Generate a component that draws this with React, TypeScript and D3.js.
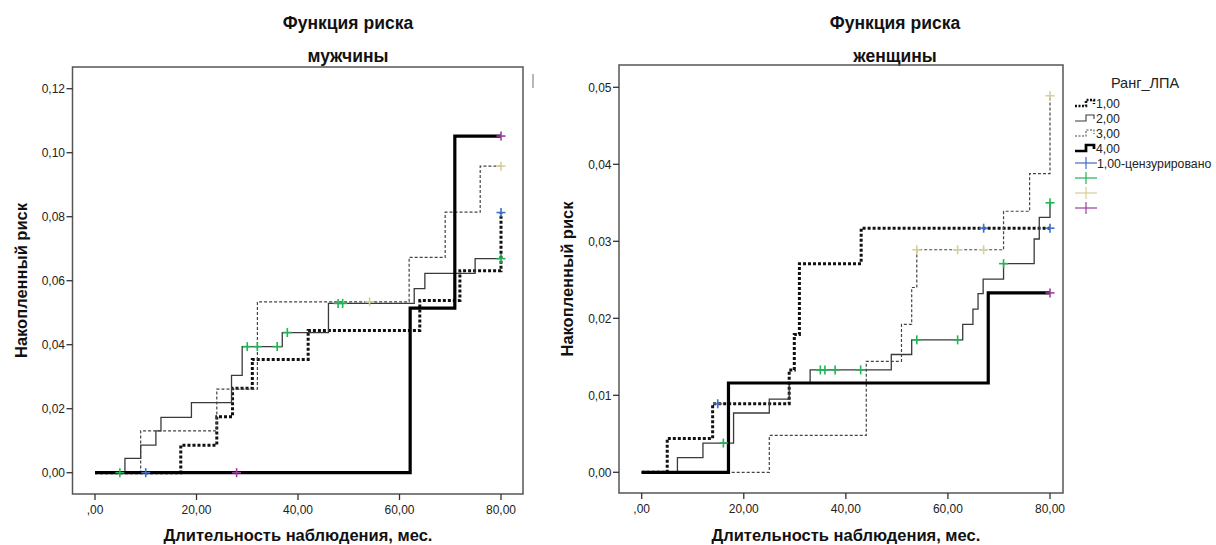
import React from 'react';
import * as d3 from 'd3';

// ---------- data ----------
const xTicks = [0, 20, 40, 60, 80];
const xTickLabels = [',00', '20,00', '40,00', '60,00', '80,00'];
const menYTicks = [0, 0.02, 0.04, 0.06, 0.08, 0.1, 0.12];
const menYTickLabels = ['0,00', '0,02', '0,04', '0,06', '0,08', '0,10', '0,12'];
const womenYTicks = [0, 0.01, 0.02, 0.03, 0.04, 0.05];
const womenYTickLabels = ['0,00', '0,01', '0,02', '0,03', '0,04', '0,05'];

const seriesNames = ['1,00', '2,00', '3,00', '4,00'];
const censorLabels = ['1,00-цензурировано', '', '', ''];

// мужчины
const menS1Times = [0, 16.9, 24.0, 27.1, 31.0, 42.0, 64.0, 71.9, 80];
const menS1Risk = [0, 0.0086, 0.0175, 0.0264, 0.0354, 0.0444, 0.0538, 0.0631, 0.0813];
const menS1Cens = [10.0, 80];
const menS2Times = [0, 5.9, 9.0, 12.0, 13.0, 19.0, 26.9, 29.0, 36.9, 46.0, 62.9, 65.0, 74.9];
const menS2Risk = [0, 0.0045, 0.0086, 0.0131, 0.0173, 0.0219, 0.0304, 0.0394, 0.0438, 0.0529, 0.0575, 0.0623, 0.0669];
const menS2Cens = [4.9, 30.0, 32.0, 35.9, 37.9, 47.9, 48.8, 80];
const menS3Times = [0, 9.0, 24.0, 32.0, 61.9, 69.0, 75.9];
const menS3Risk = [0, 0.0131, 0.0261, 0.0534, 0.0673, 0.0814, 0.0958];
const menS3Cens = [54.1, 80];
const menS4Times = [0, 62.1, 70.9];
const menS4Risk = [0, 0.0514, 0.1052];
const menS4Cens = [27.9, 80];

// женщины
const womenS1Times = [0, 5.0, 13.9, 28.9, 29.9, 30.9, 43.0];
const womenS1Risk = [0, 0.0044, 0.0089, 0.0133, 0.0179, 0.0271, 0.0317];
const womenS1Cens = [14.9, 67.0, 80];
const womenS2Times = [0, 7.0, 12.0, 18.0, 25.0, 28.9, 33.0, 48.9, 52.9, 62.9, 64.9, 65.9, 66.9, 70.9, 76.9, 77.9, 80];
const womenS2Risk = [0, 0.0019, 0.0038, 0.0077, 0.0095, 0.0116, 0.0133, 0.0153, 0.0172, 0.0192, 0.0212, 0.0232, 0.0251, 0.0271, 0.0303, 0.0331, 0.035];
const womenS2Cens = [16.0, 35.0, 35.9, 37.9, 42.9, 53.9, 61.9, 70.9, 80];
const womenS3Times = [0, 25.0, 44.0, 50.9, 52.9, 53.9, 70.9, 76.0, 80];
const womenS3Risk = [0, 0.0048, 0.0144, 0.0192, 0.024, 0.0289, 0.0339, 0.0388, 0.0489];
const womenS3Cens = [53.9, 61.9, 67.0, 80];
const womenS4Times = [0, 17.0, 67.9];
const womenS4Risk = [0, 0.0116, 0.0233];
const womenS4Cens = [80];

// ---------- styles ----------
const FONT = "'Liberation Sans', Arial, sans-serif";
const lineStyles = [
  { stroke: '#111', width: 3, dash: '3,2' },
  { stroke: '#3a3a3a', width: 1.3, dash: '' },
  { stroke: '#444', width: 1.2, dash: '3,2' },
  { stroke: '#000', width: 3.2, dash: '' },
];
const censorColors = ['#3f6fc6', '#22b455', '#d6cf98', '#9c3c9e'];
const HEAD_SIZE = 17.5;
const TITLE_SIZE = 16.5;
const TICK_SIZE = 12;

type Series = { times: number[]; risk: number[]; cens: number[] };

function stepValue(s: Series, t: number) {
  let v = s.risk[0];
  for (let i = 0; i < s.times.length; i++) if (s.times[i] <= t + 1e-9) v = s.risk[i];
  return v;
}

type PanelProps = {
  series: Series[];
  yTicks: number[];
  yTickLabels: string[];
  yMax: number;
  box: { l: number; r: number; t: number; b: number };
  xRange: [number, number];
  yRange: [number, number];
  subtitle: string;
  titleX: number;
};

function Panel(p: PanelProps) {
  const x = d3.scaleLinear().domain([0, 80]).range(p.xRange);
  const y = d3.scaleLinear().domain([0, p.yMax]).range(p.yRange);
  const line = d3
    .line<[number, number]>()
    .x((d) => x(d[0]))
    .y((d) => y(d[1]))
    .curve(d3.curveStepAfter);
  const midY = (p.box.t + p.box.b) / 2;
  const midX = (p.xRange[0] + p.xRange[1]) / 2;
  return (
    <g>
      <text x={p.titleX} y={28.5} textAnchor="middle" fontFamily={FONT} fontWeight="bold" fontSize={HEAD_SIZE} fill="#111">
        Функция риска
      </text>
      <text x={p.titleX} y={61.5} textAnchor="middle" fontFamily={FONT} fontWeight="bold" fontSize={HEAD_SIZE} fill="#111">
        {p.subtitle}
      </text>
      <rect x={p.box.l} y={p.box.t} width={p.box.r - p.box.l} height={p.box.b - p.box.t} fill="none" stroke="#555" strokeWidth={1.5} />
      {p.yTicks.map((v, i) => (
        <g key={'y' + i}>
          <line x1={p.box.l - 6} x2={p.box.l} y1={y(v)} y2={y(v)} stroke="#333" strokeWidth={1.3} />
          <text x={p.box.l - 7.5} y={y(v) + 4.3} textAnchor="end" fontFamily={FONT} fontSize={TICK_SIZE} fill="#222">
            {p.yTickLabels[i]}
          </text>
        </g>
      ))}
      {xTicks.map((v, i) => (
        <g key={'x' + i}>
          <line x1={x(v)} x2={x(v)} y1={p.box.b} y2={p.box.b + 6} stroke="#333" strokeWidth={1.3} />
          <text x={x(v)} y={p.box.b + 20} textAnchor="middle" fontFamily={FONT} fontSize={TICK_SIZE} fill="#222">
            {xTickLabels[i]}
          </text>
        </g>
      ))}
      <text x={midX} y={541} textAnchor="middle" fontFamily={FONT} fontWeight="bold" fontSize={TITLE_SIZE} fill="#111">
        Длительность наблюдения, мес.
      </text>
      <text
        transform={`translate(${p.box.l - 46},${midY}) rotate(-90)`}
        textAnchor="middle"
        fontFamily={FONT}
        fontWeight="bold"
        fontSize={TITLE_SIZE}
        fill="#111"
      >
        Накопленный риск
      </text>
      {p.series.map((s, i) => {
        const pts: [number, number][] = s.times.map((t, j) => [t, s.risk[j]] as [number, number]);
        if (pts[pts.length - 1][0] < 80) pts.push([80, pts[pts.length - 1][1]]);
        const st = lineStyles[i];
        return (
          <path
            key={'s' + i}
            d={line(pts) || ''}
            fill="none"
            stroke={st.stroke}
            strokeWidth={st.width}
            strokeDasharray={st.dash || undefined}
          />
        );
      })}
      {p.series.map((s, i) =>
        s.cens.map((t, j) => {
          const cx = x(t);
          const cy = y(stepValue(s, t));
          return (
            <g key={'c' + i + '-' + j} stroke={censorColors[i]} strokeWidth={1.6}>
              <line x1={cx - 4.5} x2={cx + 4.5} y1={cy} y2={cy} />
              <line x1={cx} x2={cx} y1={cy - 4.5} y2={cy + 4.5} />
            </g>
          );
        })
      )}
    </g>
  );
}

function Legend({ x0, y0 }: { x0: number; y0: number }) {
  const rowH = 15;
  return (
    <g>
      <text x={x0 + 70} y={y0} textAnchor="middle" fontFamily={FONT} fontSize={14.5} fill="#222">
        Ранг_ЛПА
      </text>
      {seriesNames.map((n, i) => {
        const cy = y0 + 15 + i * rowH;
        const st = lineStyles[i];
        return (
          <g key={'l' + i}>
            <path
              d={`M${x0},${cy + 3}H${x0 + 11}V${cy - 3}H${x0 + 19}V${cy + 1}`}
              fill="none"
              stroke={st.stroke}
              strokeWidth={st.width * 0.85}
              strokeDasharray={st.dash ? '2,1.5' : undefined}
            />
            <text x={x0 + 21} y={cy + 4.5} fontFamily={FONT} fontSize={12.3} fill="#222">
              {n}
            </text>
          </g>
        );
      })}
      {censorColors.map((c, i) => {
        const cy = y0 + 15 + (i + 4) * rowH;
        return (
          <g key={'lc' + i}>
            <line x1={x0} x2={x0 + 22} y1={cy} y2={cy} stroke={c} strokeWidth={1.2} />
            <line x1={x0 + 11} x2={x0 + 11} y1={cy - 6} y2={cy + 6} stroke={c} strokeWidth={1.2} />
            {censorLabels[i] && (
              <text x={x0 + 22} y={cy + 4.5} fontFamily={FONT} fontSize={12.3} fill="#222">
                {censorLabels[i]}
              </text>
            )}
          </g>
        );
      })}
    </g>
  );
}

export default function App() {
  const menSeries: Series[] = [
    { times: menS1Times, risk: menS1Risk, cens: menS1Cens },
    { times: menS2Times, risk: menS2Risk, cens: menS2Cens },
    { times: menS3Times, risk: menS3Risk, cens: menS3Cens },
    { times: menS4Times, risk: menS4Risk, cens: menS4Cens },
  ];
  const womenSeries: Series[] = [
    { times: womenS1Times, risk: womenS1Risk, cens: womenS1Cens },
    { times: womenS2Times, risk: womenS2Risk, cens: womenS2Cens },
    { times: womenS3Times, risk: womenS3Risk, cens: womenS3Cens },
    { times: womenS4Times, risk: womenS4Risk, cens: womenS4Cens },
  ];
  return (
    <svg width={1216} height={545} style={{ position: 'absolute', left: 0, top: 0, background: '#fff' }}>
      <rect x={0} y={0} width={1216} height={545} fill="#fff" />
      <Panel
        series={menSeries}
        yTicks={menYTicks}
        yTickLabels={menYTickLabels}
        yMax={0.12}
        box={{ l: 72.5, r: 523, t: 67, b: 494 }}
        xRange={[95, 501]}
        yRange={[472.7, 88.7]}
        subtitle="мужчины"
        titleX={348}
      />
      <line x1={533} x2={533} y1={74} y2={88} stroke="#888" strokeWidth={1.2} />
      <Panel
        series={womenSeries}
        yTicks={womenYTicks}
        yTickLabels={womenYTickLabels}
        yMax={0.05}
        box={{ l: 619, r: 1063, t: 65, b: 493 }}
        xRange={[641.7, 1050]}
        yRange={[472.3, 87.3]}
        subtitle="женщины"
        titleX={895}
      />
      <Legend x0={1075} y0={88} />
    </svg>
  );
}
